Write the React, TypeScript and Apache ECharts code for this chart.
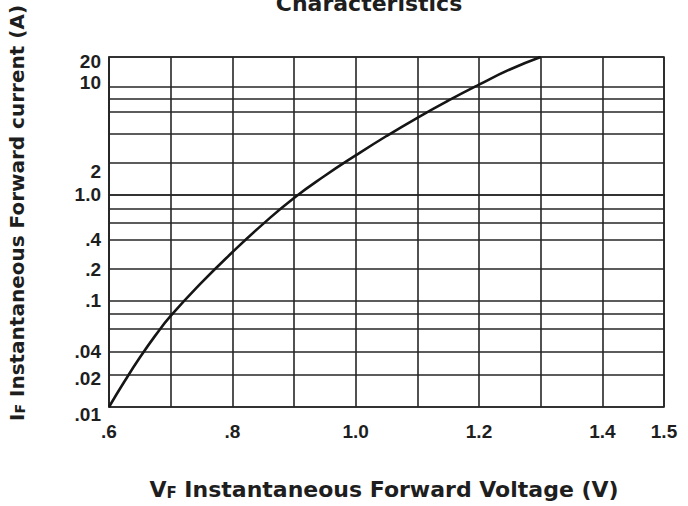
import React, { useEffect, useRef } from 'react';
import * as echarts from 'echarts';

// X axis (forward voltage, V)
const xMin = 0.6;
const xMax = 1.5;
const xStep = 0.1;
const xTickValues = [0.6, 0.8, 1.0, 1.2, 1.4, 1.5];
const xTickLabels = ['.6', '.8', '1.0', '1.2', '1.4', '1.5'];

// Y axis: log10 of forward current (A), as drawn on the sheet
const yMin = -2;
const yMax = 1.301;
const yGridLog = [-2, -1.694, -1.48, -1.266, -1.124, -1, -0.699, -0.4185, -0.258, -0.126, 0, 0.2995, 0.5735, 0.787, 0.907, 1.0175, 1.301];
const yLabelLog = [-2, -1.694, -1.48, -1, -0.699, -0.4185, 0, 0.2995, 1.0175, 1.301];
const yLabelText = ['.01', '.02', '.04', '.1', '.2', '.4', '1.0', '2', '10', '20'];

// Curve: forward voltage (V) vs log10 forward current
const vf = [0.6, 0.625, 0.65, 0.675, 0.7, 0.75, 0.8, 0.85, 0.9, 0.95, 1.0, 1.05, 1.1, 1.15, 1.2, 1.25, 1.3];
const logIf = [-2, -1.76, -1.534, -1.327, -1.141, -0.827, -0.541, -0.273, -0.028, 0.181, 0.373, 0.556, 0.728, 0.889, 1.04, 1.183, 1.301];

const titleText = 'Characteristics';

const INK = '#1e1e1e';
const LINE = '#262626';
const NUM_FONT = '"Liberation Sans", Arial, sans-serif';
const NAME_FONT = '"DejaVu Sans", Verdana, sans-serif';

// label vertical nudges (style only)
const labelShift: Record<string, string> = {
  '20': 'd4',
  '10': 'u5',
  '2': 'd8',
  '.02': 'd4',
  '.01': 'd7',
};

export default function App() {
  const ref = useRef<HTMLDivElement>(null);

  useEffect(() => {
    if (!ref.current) return;
    const chart = echarts.init(ref.current, undefined, { renderer: 'svg' });

    const numStyle = { fontSize: 19, fontWeight: 'bold' as const, fontFamily: NUM_FONT, color: INK };

    const option: any = {
      animation: false,
      backgroundColor: '#ffffff',
      grid: {
        left: 109,
        right: 24,
        top: 57,
        bottom: 99,
        show: true,
        borderColor: LINE,
        borderWidth: 1.6,
        backgroundColor: 'transparent',
      },
      xAxis: {
        type: 'value',
        min: xMin,
        max: xMax,
        interval: xStep,
        axisLine: { show: true, lineStyle: { color: LINE, width: 1.6 } },
        axisTick: { show: false },
        splitLine: { show: true, lineStyle: { color: LINE, width: 1.6 } },
        axisLabel: {
          show: true,
          margin: 15,
          showMinLabel: true,
          showMaxLabel: true,
          ...numStyle,
          formatter: (v: number) => {
            const i = xTickValues.findIndex((t) => Math.abs(t - v) < 1e-6);
            return i >= 0 ? xTickLabels[i] : '';
          },
        },
      },
      yAxis: {
        type: 'value',
        min: yMin,
        max: yMax,
        axisLine: { show: true, lineStyle: { color: LINE, width: 1.6 } },
        axisTick: { show: false, customValues: yGridLog },
        splitLine: { show: true, lineStyle: { color: LINE, width: 1.6 } },
        axisLabel: {
          show: true,
          margin: 8,
          customValues: yLabelLog,
          showMinLabel: true,
          showMaxLabel: true,
          ...numStyle,
          formatter: (v: number) => {
            let best = 0;
            for (let i = 1; i < yLabelLog.length; i++) {
              if (Math.abs(yLabelLog[i] - v) < Math.abs(yLabelLog[best] - v)) best = i;
            }
            const t = yLabelText[best];
            const s = labelShift[t] || 'n';
            return `{${s}|${t}}`;
          },
          rich: {
            n: { ...numStyle },
            d4: { ...numStyle, padding: [8, 0, 0, 0] },
            d7: { ...numStyle, padding: [14, 0, 0, 0] },
            d8: { ...numStyle, padding: [16, 0, 0, 0] },
            u5: { ...numStyle, padding: [0, 0, 10, 0] },
          },
        },
      },
      graphic: [
        {
          type: 'text',
          x: 369,
          y: 3,
          style: {
            text: titleText,
            fontSize: 22,
            fontWeight: 'bold',
            fontFamily: NAME_FONT,
            fill: INK,
            align: 'center',
            verticalAlign: 'middle',
          },
        },
        {
          type: 'text',
          x: 384,
          y: 489,
          style: {
            text: '{b|V}{s|F}{b| Instantaneous Forward Voltage (V)}',
            align: 'center',
            verticalAlign: 'middle',
            rich: {
              b: { fontSize: 22, fontWeight: 'bold', fontFamily: NAME_FONT, fill: INK, verticalAlign: 'bottom' },
              s: { fontSize: 15, fontWeight: 'bold', fontFamily: NAME_FONT, fill: INK, verticalAlign: 'bottom' },
            },
          },
        },
        {
          type: 'text',
          x: 17,
          y: 213,
          rotation: Math.PI / 2,
          style: {
            text: '{b|I}{s|F}{b| Instantaneous Forward current (A)}',
            align: 'center',
            verticalAlign: 'middle',
            rich: {
              b: { fontSize: 20, fontWeight: 'bold', fontFamily: NAME_FONT, fill: INK, verticalAlign: 'bottom' },
              s: { fontSize: 14, fontWeight: 'bold', fontFamily: NAME_FONT, fill: INK, verticalAlign: 'bottom' },
            },
          },
        },
      ],
      series: [
        {
          type: 'line',
          data: vf.map((v, i) => [v, logIf[i]]),
          showSymbol: false,
          smooth: true,
          lineStyle: { color: '#151515', width: 2.6 },
          silent: true,
          z: 5,
        },
      ],
    };

    chart.setOption(option);
    return () => chart.dispose();
  }, []);

  return <div ref={ref} style={{ width: 688, height: 506, position: 'absolute', left: 0, top: 0 }} />;
}
